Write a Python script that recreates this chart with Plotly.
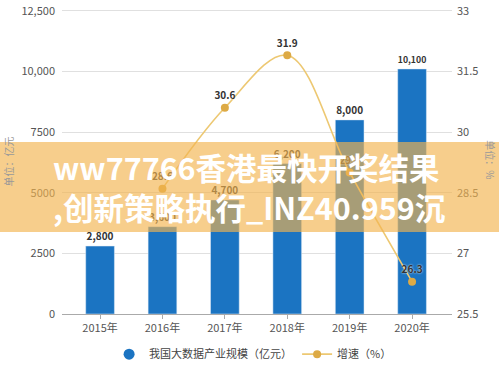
import plotly.graph_objects as go

years = ["2015年", "2016年", "2017年", "2018年", "2019年", "2020年"]
scale = [2800, 3600, 4700, 6200, 8000, 10100]
scale_labels = ["2,800", "3,600", "4,700", "6,200", "8,000", "10,100"]
growth = [None, 28.6, 30.6, 31.9, 29.0, 26.3]
growth_labels = ["", "28.6", "30.6", "31.9", "29.0", "26.3"]
left_ticks = [0, 2500, 5000, 7500, 10000, 12500]
left_ticktext = ["0", "2500", "5000", "7500", "10,000", "12,500"]
right_ticks = [25.5, 27, 28.5, 30, 31.5, 33]
right_ticktext = ["25.5", "27", "28.5", "30", "31.5", "33"]
bar_name = "我国大数据产业规模（亿元）"
line_name = "增速（%）"
banner_text = "ww77766香港最快开奖结果<br>,创新策略执行_INZ40.959沉"

BLUE = "#1B74C2"
GOLD_LINE = "#EDC872"
GOLD_MARK = "#DDAA45"
FONT = "Noto Sans CJK SC, Noto Sans, sans-serif"

fig = go.Figure()
fig.add_trace(go.Bar(
    x=years, y=scale, width=0.46, marker_color=BLUE, showlegend=False,
    text=scale_labels, textposition="outside", cliponaxis=False,
    textfont=dict(size=10, color="#333", family=FONT, weight="bold"),
    hoverinfo="skip",
))
fig.add_trace(go.Scatter(
    x=[None], y=[None], mode="markers", name=bar_name,
    marker=dict(symbol="circle", size=11, color=BLUE),
))
fig.add_trace(go.Scatter(
    x=years, y=growth, yaxis="y2", mode="lines+markers+text", name=line_name,
    line=dict(color=GOLD_LINE, width=1.6, shape="spline", smoothing=1.0),
    marker=dict(size=8, color=GOLD_MARK),
    text=growth_labels, textposition="top center", cliponaxis=False,
    textfont=dict(size=10, color="#333", family=FONT, weight="bold",
                  shadow="0px 0px 2px white"),
    connectgaps=False,
))

fig.update_layout(
    width=499, height=367,
    margin=dict(l=62, r=47, t=9, b=53, autoexpand=False),
    plot_bgcolor="white", paper_bgcolor="white",
    font=dict(family=FONT, size=11, color="#555"),
    bargap=0.5,
    xaxis=dict(
        type="category", range=[-0.61, 5.64], showgrid=False,
        showline=True, linecolor="#aaa", linewidth=1,
        ticks="outside", ticklen=4, tickcolor="#aaa",
        tickfont=dict(size=11, color="#555"),
    ),
    yaxis=dict(
        range=[0, 12570], tickvals=left_ticks, ticktext=left_ticktext,
        showgrid=True, gridcolor="#e0e0e0", zeroline=False,
        ticks="", ticklabelstandoff=6,
        tickfont=dict(size=11, color="#555"),
    ),
    yaxis2=dict(
        range=[25.5, 33.042], tickvals=right_ticks, ticktext=right_ticktext,
        overlaying="y", side="right", showgrid=False, zeroline=False,
        ticks="", ticklabelstandoff=4,
        tickfont=dict(size=11, color="#555"),
    ),
    legend=dict(
        orientation="h", x=0.49, xanchor="center",
        yref="container", y=0.035, yanchor="middle",
        font=dict(size=11, color="#444"), traceorder="normal",
    ),
    shapes=[dict(
        type="rect", xref="paper", yref="paper",
        x0=-0.2, x1=1.2, y0=0.269, y1=0.564,
        fillcolor="rgb(242,179,78)", opacity=0.65, line=dict(width=0),
        layer="above",
    )],
    annotations=[
        dict(text="单位：亿元", xref="paper", yref="paper", x=-0.136, y=0.5,
             xanchor="center", yanchor="middle",
             textangle=-90, showarrow=False, font=dict(size=10, color="#999")),
        dict(text="单位：%", xref="paper", yref="paper", x=1.097, y=0.505,
             xanchor="center", yanchor="middle",
             textangle=90, showarrow=False, font=dict(size=10, color="#999")),
        dict(text=banner_text, xref="paper", yref="paper", x=0.482, y=0.415,
             xanchor="center", yanchor="middle",
             showarrow=False, align="left",
             font=dict(size=30.5, color="white", family=FONT, weight="bold")),
    ],
)

fig.write_html("out.html", config={"displayModeBar": False},
               post_script="document.body.style.margin='0px';")
